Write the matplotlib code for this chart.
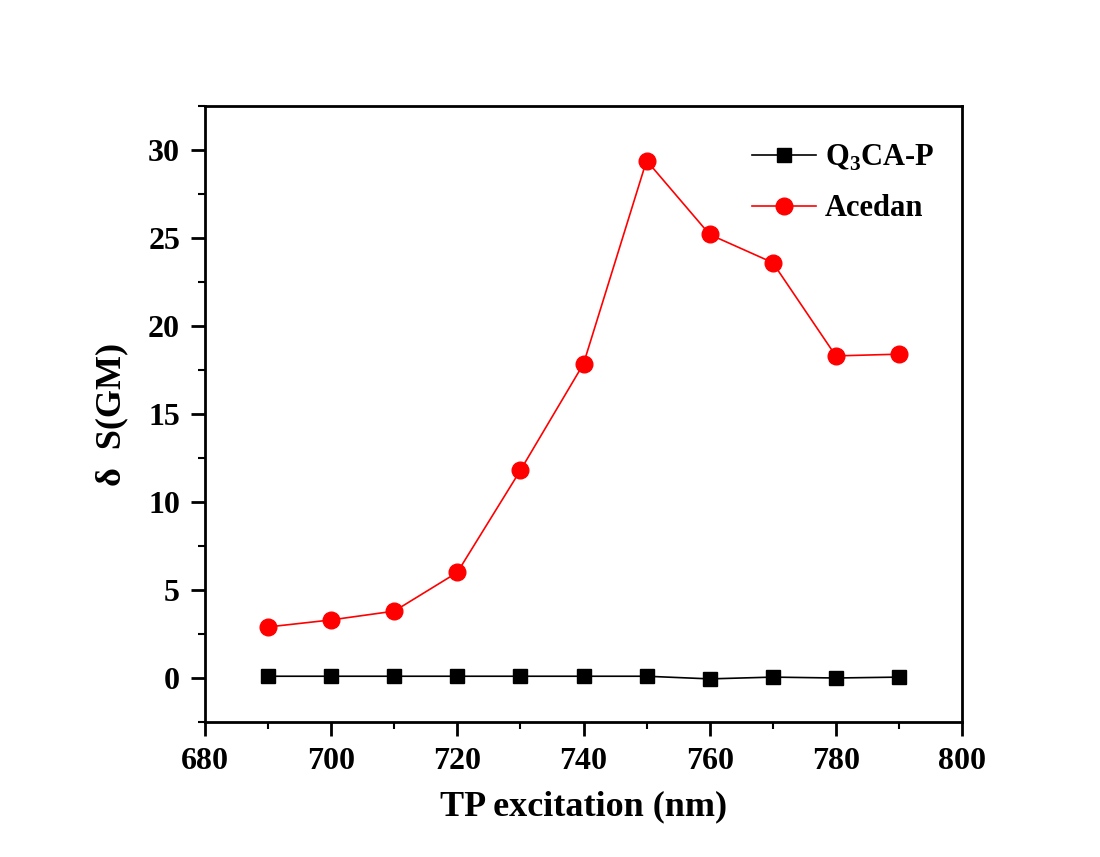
import matplotlib
matplotlib.use("Agg")
import matplotlib.pyplot as plt
from matplotlib.ticker import MultipleLocator

plt.rcParams['font.family'] = ['Liberation Serif', 'DejaVu Serif']
plt.rcParams['font.weight'] = 'bold'
plt.rcParams['mathtext.fontset'] = 'custom'
plt.rcParams['mathtext.rm'] = 'Liberation Serif:bold'
plt.rcParams['mathtext.bf'] = 'Liberation Serif:bold'

wavelength = [690, 700, 710, 720, 730, 740, 750, 760, 770, 780, 790]
q3ca_p = [0.1, 0.1, 0.1, 0.1, 0.1, 0.1, 0.1, -0.05, 0.05, 0.0, 0.05]
acedan = [2.9, 3.3, 3.8, 6.0, 11.8, 17.85, 29.4, 25.2, 23.6, 18.3, 18.4]

fig = plt.figure(figsize=(11, 8.57), dpi=100)
ax = fig.add_axes([205 / 1100, 1 - 722 / 857, (962 - 205) / 1100, (722 - 106) / 857])

ax.plot(wavelength, q3ca_p, color='black', marker='s', markersize=10, linewidth=1.2,
        label='Q$_\\mathbf{3}$CA-P')
ax.plot(wavelength, acedan, color='red', marker='o', markersize=12, linewidth=1.2,
        label='Acedan')

ax.set_xlim(680, 800)
ax.set_ylim(-2.5, 32.5)
ax.xaxis.set_major_locator(MultipleLocator(20))
ax.xaxis.set_minor_locator(MultipleLocator(10))
ax.yaxis.set_major_locator(MultipleLocator(5))
ax.yaxis.set_minor_locator(MultipleLocator(2.5))
ax.tick_params(which='major', direction='out', length=10, width=2, labelsize=23, pad=8)
ax.tick_params(which='minor', direction='out', length=5, width=1.5)
for s in ax.spines.values():
    s.set_linewidth(2)

ax.set_xlabel('TP excitation (nm)', fontsize=26, fontweight='bold', labelpad=10)
ax.set_ylabel('δ  S(GM)', fontsize=26, fontweight='bold', labelpad=14)

leg = ax.legend(loc='upper right', frameon=False, fontsize=22, handlelength=2.1,
                handletextpad=0.3, labelspacing=0.7, bbox_to_anchor=(1.0, 0.985))

fig.savefig('out.png', dpi=100)
